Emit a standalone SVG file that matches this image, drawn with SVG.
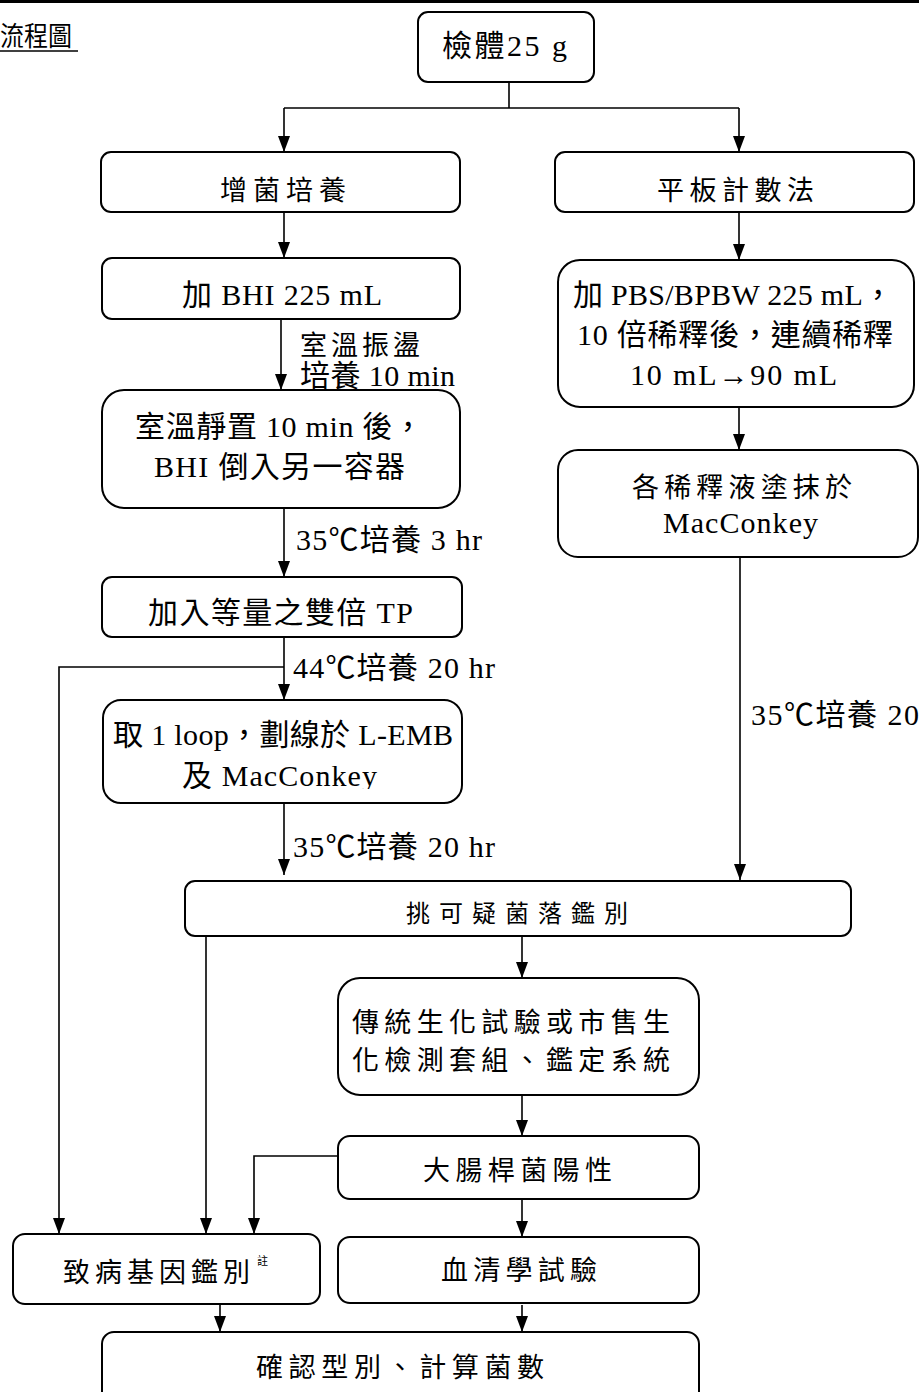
<svg xmlns="http://www.w3.org/2000/svg" width="919" height="1392" viewBox="0 0 919 1392">
<defs>
<style>
.box{fill:#fff;stroke:#000;stroke-width:2}
.ln{fill:none;stroke:#000;stroke-width:1.6}
.t{font-family:"Liberation Serif","Noto Sans CJK TC",serif;font-size:30px;fill:#000}
.c{font-size:27px}
.s{font-size:24px}
.sup{font-size:11px}
</style>
<marker id="ah" markerUnits="userSpaceOnUse" markerWidth="16" markerHeight="12" refX="16" refY="6" orient="auto" viewBox="0 0 16 12">
<path d="M0,0 L16,6 L0,12 z" fill="#000"/>
</marker>
<clipPath id="clipL"><rect x="100" y="700" width="365" height="89"/></clipPath>
</defs>
<rect x="0" y="0" width="919" height="3" fill="#000"/>
<g id="title">
<text class="t c" x="0" y="46" textLength="72" lengthAdjust="spacingAndGlyphs">流程圖</text>
<line x1="0" y1="51" x2="78" y2="51" stroke="#000" stroke-width="1.6"/>
</g>
<g id="connectors">
<line class="ln" x1="509" y1="82" x2="509" y2="108"/>
<line class="ln" x1="284" y1="108" x2="739" y2="108"/>
<line class="ln" x1="284" y1="108" x2="284" y2="152" marker-end="url(#ah)"/>
<line class="ln" x1="739" y1="108" x2="739" y2="152" marker-end="url(#ah)"/>
<line class="ln" x1="284" y1="212" x2="284" y2="258" marker-end="url(#ah)"/>
<line class="ln" x1="739" y1="212" x2="739" y2="260" marker-end="url(#ah)"/>
<line class="ln" x1="281" y1="319" x2="281" y2="390" marker-end="url(#ah)"/>
<line class="ln" x1="739" y1="407" x2="739" y2="450" marker-end="url(#ah)"/>
<line class="ln" x1="284" y1="508" x2="284" y2="577" marker-end="url(#ah)"/>
<line class="ln" x1="284" y1="637" x2="284" y2="700" marker-end="url(#ah)"/>
<polyline class="ln" points="284,667 59,667 59,1234" marker-end="url(#ah)"/>
<line class="ln" x1="284" y1="803" x2="284" y2="875" marker-end="url(#ah)"/>
<line class="ln" x1="740" y1="557" x2="740" y2="880" marker-end="url(#ah)"/>
<line class="ln" x1="206" y1="936" x2="206" y2="1234" marker-end="url(#ah)"/>
<line class="ln" x1="522" y1="936" x2="522" y2="978" marker-end="url(#ah)"/>
<line class="ln" x1="522" y1="1095" x2="522" y2="1136" marker-end="url(#ah)"/>
<polyline class="ln" points="338,1156 254,1156 254,1234" marker-end="url(#ah)"/>
<line class="ln" x1="522" y1="1199" x2="522" y2="1237" marker-end="url(#ah)"/>
<line class="ln" x1="220" y1="1304" x2="220" y2="1332" marker-end="url(#ah)"/>
<line class="ln" x1="522" y1="1305" x2="522" y2="1332" marker-end="url(#ah)"/>
</g>
<g id="labels">
<text class="t c" x="300" y="355" textLength="120" lengthAdjust="spacing">室溫振盪</text>
<text class="t" x="300" y="386" textLength="155" lengthAdjust="spacing">培養 10 min</text>
<text class="t" x="296" y="550" textLength="186" lengthAdjust="spacing">35℃培養 3 hr</text>
<text class="t" x="293" y="678" textLength="202" lengthAdjust="spacing">44℃培養 20 hr</text>
<text class="t" x="293" y="857" textLength="202" lengthAdjust="spacing">35℃培養 20 hr</text>
<text class="t" x="751" y="725" textLength="168" lengthAdjust="spacing">35℃培養 20</text>
</g>
<g id="n-sample">
<rect class="box" x="418" y="12" width="176" height="70" rx="10"/>
<text class="t" x="442" y="56" textLength="125" lengthAdjust="spacing">檢體25 g</text>
</g>
<g id="n-enrich">
<rect class="box" x="101" y="152" width="359" height="60" rx="10"/>
<text class="t c" x="220" y="200" textLength="126" lengthAdjust="spacing">增菌培養</text>
</g>
<g id="n-plate">
<rect class="box" x="555" y="152" width="359" height="60" rx="10"/>
<text class="t c" x="657" y="200" textLength="157" lengthAdjust="spacing">平板計數法</text>
</g>
<g id="n-bhi">
<rect class="box" x="102" y="258" width="358" height="61" rx="10"/>
<text class="t" x="182" y="305" textLength="200" lengthAdjust="spacing">加 BHI 225 mL</text>
</g>
<g id="n-pbs">
<rect class="box" x="558" y="260" width="356" height="147" rx="22"/>
<text class="t" x="573" y="305" textLength="320" lengthAdjust="spacing">加 PBS/BPBW 225 mL，</text>
<text class="t" x="577" y="345" textLength="316" lengthAdjust="spacing">10 倍稀釋後，連續稀釋</text>
<text class="t" x="630" y="385" textLength="207" lengthAdjust="spacing">10 mL→90 mL</text>
</g>
<g id="n-stand">
<rect class="box" x="102" y="390" width="358" height="118" rx="22"/>
<text class="t" x="135" y="437" textLength="288" lengthAdjust="spacing">室溫靜置 10 min 後，</text>
<text class="t" x="154" y="477" textLength="251" lengthAdjust="spacing">BHI 倒入另一容器</text>
</g>
<g id="n-spread">
<rect class="box" x="558" y="450" width="360" height="107" rx="20"/>
<text class="t c" x="632" y="497" textLength="220" lengthAdjust="spacing">各稀釋液塗抹於</text>
<text class="t" x="663" y="533" textLength="155" lengthAdjust="spacing">MacConkey</text>
</g>
<g id="n-tp">
<rect class="box" x="102" y="577" width="360" height="60" rx="10"/>
<text class="t" x="148" y="623" textLength="265" lengthAdjust="spacing">加入等量之雙倍 TP</text>
</g>
<g id="n-loop">
<rect class="box" x="103" y="700" width="359" height="103" rx="18"/>
<text class="t" x="113" y="745" textLength="340" lengthAdjust="spacing">取 1 loop，劃線於 L-EMB</text>
<text class="t" x="182" y="786" textLength="195" lengthAdjust="spacing" clip-path="url(#clipL)">及 MacConkey</text>
</g>
<g id="n-pick">
<rect class="box" x="185" y="881" width="666" height="55" rx="10"/>
<text class="t s" x="406" y="922" textLength="222" lengthAdjust="spacing">挑可疑菌落鑑別</text>
</g>
<g id="n-biochem">
<rect class="box" x="338" y="978" width="361" height="117" rx="22"/>
<text class="t c" x="352" y="1032" textLength="318" lengthAdjust="spacing">傳統生化試驗或市售生</text>
<text class="t c" x="352" y="1070" textLength="318" lengthAdjust="spacing">化檢測套組、鑑定系統</text>
</g>
<g id="n-ecoli">
<rect class="box" x="338" y="1136" width="361" height="63" rx="12"/>
<text class="t c" x="423" y="1180" textLength="189" lengthAdjust="spacing">大腸桿菌陽性</text>
</g>
<g id="n-gene">
<rect class="box" x="13" y="1234" width="307" height="70" rx="12"/>
<text class="t c" x="63" y="1282" textLength="187" lengthAdjust="spacing">致病基因鑑別</text>
<text class="t sup" x="257" y="1265">註</text>
</g>
<g id="n-sero">
<rect class="box" x="338" y="1237" width="361" height="66" rx="12"/>
<text class="t c" x="441" y="1280" textLength="156" lengthAdjust="spacing">血清學試驗</text>
</g>
<g id="n-confirm">
<rect class="box" x="102" y="1332" width="597" height="80" rx="12"/>
<text class="t c" x="256" y="1377" textLength="288" lengthAdjust="spacing">確認型別、計算菌數</text>
</g>
</svg>
